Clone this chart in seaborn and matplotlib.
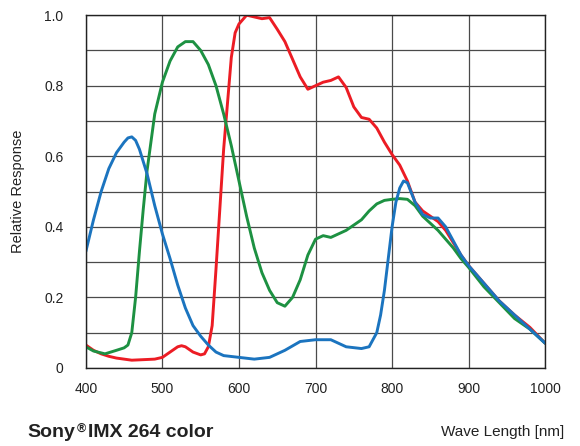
import numpy as np
import pandas as pd
import seaborn as sns
import matplotlib.pyplot as plt

# spectral response, per channel
red_nm = [400, 410, 420, 430, 440, 450, 460, 480, 490, 500, 510, 520, 525, 530, 540, 550, 555, 560, 565,
          570, 575, 580, 585, 590, 595, 600, 610, 620, 630, 640, 650, 660, 670, 680, 690, 700, 710, 720,
          730, 740, 750, 760, 770, 780, 790, 800, 810, 820, 830, 840, 850, 860, 870, 880, 890, 900, 920,
          940, 960, 980, 1000]
red_val = [0.065, 0.05, 0.04, 0.033, 0.028, 0.025, 0.022, 0.024, 0.025, 0.03, 0.045, 0.06, 0.063, 0.06,
           0.045, 0.037, 0.04, 0.06, 0.12, 0.28, 0.45, 0.62, 0.75, 0.88, 0.95, 0.975, 1.0, 0.995, 0.99,
           0.993, 0.96, 0.925, 0.875, 0.825, 0.79, 0.80, 0.81, 0.815, 0.825, 0.795, 0.74, 0.71, 0.705,
           0.68, 0.64, 0.605, 0.575, 0.53, 0.47, 0.445, 0.43, 0.415, 0.39, 0.355, 0.32, 0.29, 0.24, 0.19,
           0.15, 0.115, 0.07]

green_nm = [400, 410, 425, 440, 450, 455, 460, 465, 470, 475, 480, 490, 500, 510, 520, 530, 540, 550,
            560, 570, 580, 590, 600, 610, 620, 630, 640, 650, 660, 670, 680, 690, 700, 710, 720, 730,
            740, 750, 760, 770, 780, 790, 800, 810, 820, 830, 840, 850, 860, 870, 880, 890, 900, 920,
            940, 960, 980, 1000]
green_val = [0.06, 0.048, 0.04, 0.05, 0.057, 0.065, 0.1, 0.2, 0.33, 0.45, 0.56, 0.72, 0.81, 0.87, 0.91,
             0.925, 0.925, 0.90, 0.86, 0.80, 0.72, 0.63, 0.53, 0.43, 0.34, 0.27, 0.22, 0.185, 0.175,
             0.2, 0.25, 0.32, 0.365, 0.375, 0.37, 0.38, 0.39, 0.405, 0.42, 0.445, 0.465, 0.475, 0.478,
             0.48, 0.478, 0.46, 0.43, 0.41, 0.39, 0.365, 0.34, 0.31, 0.285, 0.23, 0.185, 0.14, 0.11, 0.07]

blue_nm = [400, 410, 420, 430, 440, 450, 455, 460, 465, 470, 480, 490, 500, 510, 520, 530, 540, 550, 560,
           570, 580, 600, 620, 640, 660, 680, 700, 720, 730, 740, 760, 770, 780, 785, 790, 800, 805, 810,
           815, 820, 830, 840, 850, 860, 870, 880, 890, 900, 920, 940, 960, 980, 1000]
blue_val = [0.33, 0.42, 0.50, 0.565, 0.61, 0.64, 0.652, 0.655, 0.645, 0.62, 0.55, 0.46, 0.38, 0.31,
            0.235, 0.17, 0.12, 0.09, 0.065, 0.045, 0.035, 0.03, 0.025, 0.03, 0.05, 0.075, 0.08, 0.08,
            0.07, 0.06, 0.055, 0.06, 0.1, 0.15, 0.22, 0.40, 0.47, 0.51, 0.53, 0.525, 0.47, 0.435, 0.425,
            0.425, 0.40, 0.36, 0.32, 0.29, 0.24, 0.19, 0.15, 0.11, 0.07]

sns.set_style("white")
plt.rcParams['font.family'] = ['Liberation Sans', 'DejaVu Sans']

fig = plt.figure(figsize=(5.8, 4.46), dpi=100)
ax = fig.add_axes([0.148, 0.175, 0.792, 0.791])

for nm, val, col in [(red_nm, red_val, '#ec1c24'),
                     (green_nm, green_val, '#1d9142'),
                     (blue_nm, blue_val, '#1b74bf')]:
    df = pd.DataFrame({'nm': nm, 'resp': val})
    sns.lineplot(data=df, x='nm', y='resp', color=col, linewidth=2.1, ax=ax)

ax.set_xlim(400, 1000)
ax.set_ylim(0, 1.0)
ax.set_xticks(np.arange(400, 1001, 100))
ax.set_yticks(np.arange(0, 1.01, 0.1), minor=True)
ax.set_yticks([0, 0.2, 0.4, 0.6, 0.8, 1.0])
ax.set_yticklabels(['0', '0.2', '0.4', '0.6', '0.8', '1.0'])
ax.grid(True, which='both', color='#4a4a4a', linewidth=0.9)
ax.tick_params(axis='both', which='both', length=0, labelsize=10, colors='#222222')
ax.tick_params(axis='x', pad=10)
ax.tick_params(axis='y', pad=16)
for s in ax.spines.values():
    s.set_color('#222222')
    s.set_linewidth(1.0)
ax.set_xlabel('')
ax.set_ylabel('Relative Response', fontsize=10.5, color='#222222', labelpad=14)

# caption with a raised registered sign
fig.canvas.draw()
r = fig.canvas.get_renderer()
t1 = fig.text(0.048, 0.031, 'Sony', fontsize=14, fontweight='bold', color='#222222', va='center')
x1 = t1.get_window_extent(r).x1 / fig.bbox.width
t2 = fig.text(x1 + 0.001, 0.053, '\u00ae', fontsize=9, fontweight='bold', color='#222222', va='top')
x2 = t2.get_window_extent(r).x1 / fig.bbox.width
fig.text(x2 + 0.005, 0.031, 'IMX 264 color', fontsize=14, fontweight='bold', color='#222222', va='center')
fig.text(0.972, 0.031, 'Wave Length [nm]', fontsize=11, color='#222222', va='center', ha='right')

fig.savefig('out.png', dpi=100)
